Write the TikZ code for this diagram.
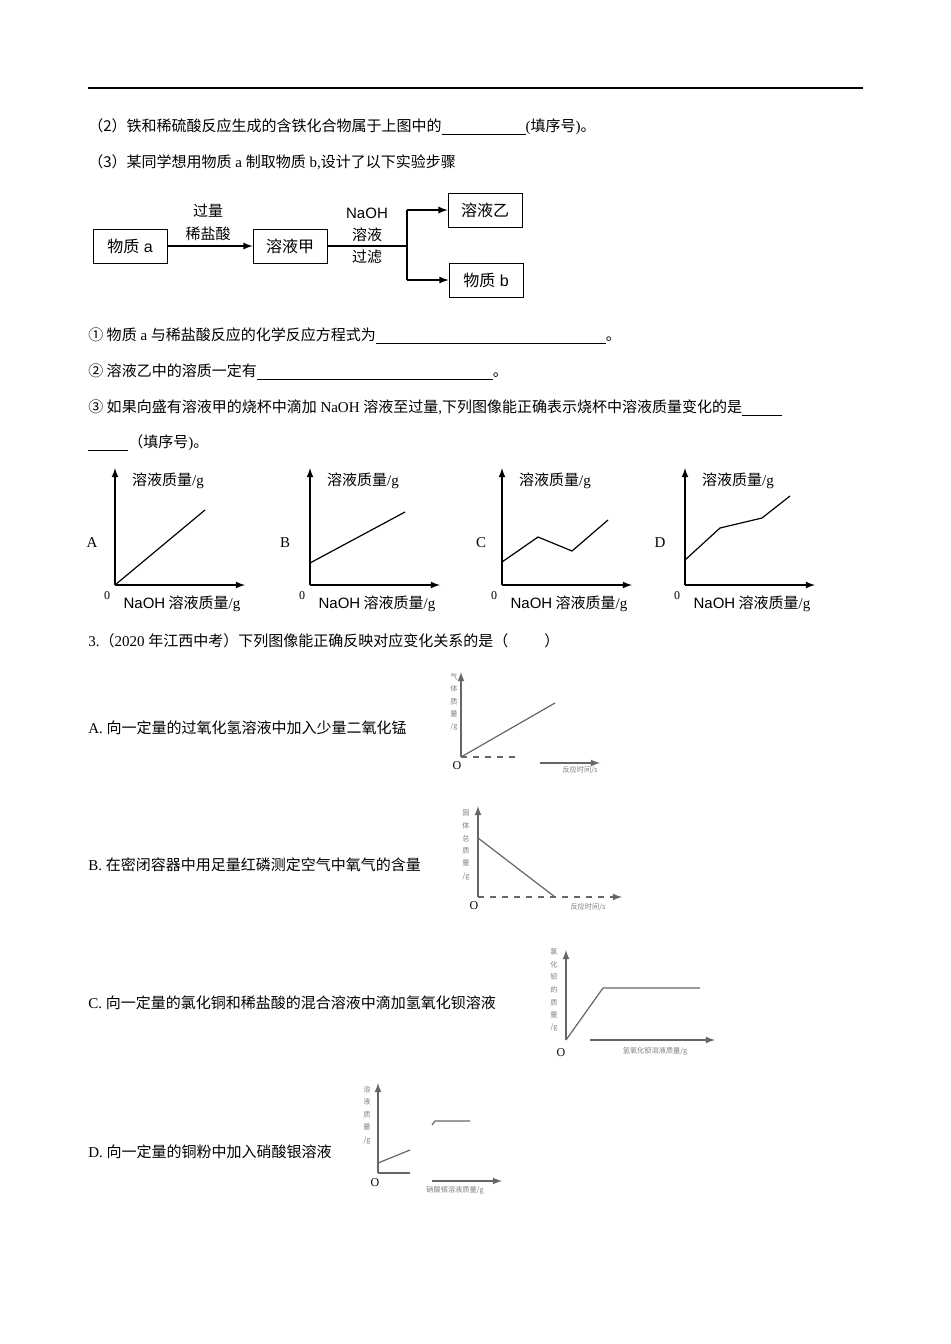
\documentclass[tikz,border=0pt]{standalone}
\usepackage{fontspec}
\setmainfont{Noto Sans CJK SC}
\newfontfamily\lat{Liberation Serif}
\newfontfamily\las{Liberation Sans}
\begin{document}
\begin{tikzpicture}[x=0.5pt,y=-0.5pt,
  txt/.style={anchor=west,inner sep=0pt,font=\fontsize{7.5}{9}\selectfont},
  lab/.style={inner sep=0pt,font=\fontsize{7.5}{9}\selectfont},
  fbox/.style={draw,minimum width=37pt,minimum height=17pt,inner sep=0pt,font=\fontsize{8}{9}\selectfont},
  tiny/.style={inner sep=0pt,font=\fontsize{3.6}{4.2}\selectfont,text=gray},
  ax/.style={line width=0.6pt,-latex},
  gr/.style={line width=0.6pt,gray!80!black},
  cur/.style={line width=0.6pt}]
\useasboundingbox (0,0) rectangle (950,1344);
\fill[white] (0,0) rectangle (950,1344);
\draw[line width=0.6pt] (88,88) -- (863,88);
\node[txt] (t2) at (88,127) {（2）铁和稀硫酸反应生成的含铁化合物属于上图中的\underline{\hspace{42pt}}{\lat (}填序号{\lat )}。};
\node[txt] (t3) at (88,162) {（3）某同学想用物质{\lat\ a }制取物质{\lat\ b,}设计了以下实验步骤};
% flowchart
\node[fbox] (wa) at (130,246) {物质{\las\ a}};
\node[fbox] (jia) at (290,246) {溶液甲};
\node[fbox] (yi) at (485,210) {溶液乙};
\node[fbox] (wb) at (486,280) {物质{\las\ b}};
\draw[cur,-latex] (wa.east) -- (jia.west);
\node[lab] (l1) at (208,211) {过量};
\node[lab] (l2) at (208,234) {稀盐酸};
\coordinate (br) at (407,246);
\coordinate (bt) at (407,210);
\coordinate (bb) at (407,280);
\draw[cur] (jia.east) -- (br);
\draw[cur] (bt) -- (bb);
\draw[cur,-latex] (bt) -- (yi.west);
\draw[cur,-latex] (bb) -- (wb.west);
\node[lab,font=\las\fontsize{7.5}{9}\selectfont] (l3) at (367,213) {NaOH};
\node[lab] (l4) at (367,235) {溶液};
\node[lab] (l5) at (367,257) {过滤};
\node[txt] (q1) at (88,336) {① 物质{\lat\ a }与稀盐酸反应的化学反应方程式为\underline{\hspace{115pt}}。};
\node[txt] (q2) at (88,372) {② 溶液乙中的溶质一定有\underline{\hspace{118pt}}。};
\node[txt] (q3) at (88,408) {③ 如果向盛有溶液甲的烧杯中滴加{\lat\ NaOH }溶液至过量{\lat ,}下列图像能正确表示烧杯中溶液质量变化的是\underline{\hspace{20pt}}};
\node[txt] (q4) at (88,443) {\underline{\hspace{20pt}}（填序号{\lat )}。};
% four graphs
\foreach \ox/\L/\lx in {115/A/92,310/B/285,502/C/481,685/D/660}{
  \draw[ax] (\ox,585) -- (\ox,468);
  \draw[ax] (\ox,585) -- (\ox+130,585);
  \node[lab] at (\lx,543) {\lat \L};
  \node[lab,font=\lat\fontsize{6}{7}\selectfont] at (\ox-8,596) {0};
  \node[lab] at (\ox+53,481) {溶液质量{\lat /g}};
  \node[lab] at (\ox+67,604) {{\las NaOH} 溶液质量{\lat /g}};
}
\draw[cur] (115,585) -- (205,510);
\draw[cur] (310,563) -- (405,512);
\draw[cur] (502,562) -- (538,537) -- (572,551) -- (608,520);
\draw[cur] (685,560) -- (720,528) -- (762,518) -- (790,496);
\node[txt] (q5) at (88,641) {{\lat 3.}（{\lat 2020 }年江西中考）下列图像能正确反映对应变化关系的是（\hspace{18pt}）};
% A
\node[txt] (oa) at (88,728) {{\lat A. }向一定量的过氧化氢溶液中加入少量二氧化锰};
\draw[gr,-latex] (461,757) -- (461,672);
\draw[gr,dashed] (461,757) -- (515,757);
\draw[gr,-latex] (540,763) -- (600,763);
\draw[gr] (461,757) -- (555,703);
\node[tiny] at (454,702) {\shortstack{气\\体\\质\\量\\/g}};
\node[lab,font=\lat\fontsize{6}{7}\selectfont] at (457,766) {O};
\node[tiny] at (580,770) {反应时间/s};
% B
\node[txt] (ob) at (88,865) {{\lat B. }在密闭容器中用足量红磷测定空气中氧气的含量};
\draw[gr,-latex] (478,897) -- (478,806);
\draw[gr,dashed] (478,897) -- (615,897);
\draw[gr,-latex] (615,897) -- (622,897);
\draw[gr] (478,838) -- (555,897);
\node[tiny] at (466,845) {\shortstack{固\\体\\总\\质\\量\\/g}};
\node[lab,font=\lat\fontsize{6}{7}\selectfont] at (474,906) {O};
\node[tiny] at (588,907) {反应时间/s};
% C
\node[txt] (oc) at (88,1003) {{\lat C. }向一定量的氯化铜和稀盐酸的混合溶液中滴加氢氧化钡溶液};
\draw[gr,-latex] (566,1040) -- (566,950);
\draw[gr,-latex] (590,1040) -- (715,1040);
\draw[gr] (566,1040) -- (603,988) -- (700,988);
\node[tiny] at (554,990) {\shortstack{氯\\化\\钡\\的\\质\\量\\/g}};
\node[lab,font=\lat\fontsize{6}{7}\selectfont] at (561,1053) {O};
\node[tiny] at (655,1051) {氢氧化钡溶液质量/g};
% D
\node[txt] (od) at (88,1152) {{\lat D. }向一定量的铜粉中加入硝酸银溶液};
\draw[gr,-latex] (378,1173) -- (378,1083);
\draw[gr] (378,1173) -- (410,1173);
\draw[gr,-latex] (432,1181) -- (502,1181);
\draw[gr] (378,1163) -- (410,1150);
\draw[gr] (432,1125) -- (435,1121) -- (470,1121);
\node[tiny] at (367,1115) {\shortstack{溶\\液\\质\\量\\/g}};
\node[lab,font=\lat\fontsize{6}{7}\selectfont] at (375,1183) {O};
\node[tiny] at (455,1190) {硝酸银溶液质量/g};
\end{tikzpicture}
\end{document}
